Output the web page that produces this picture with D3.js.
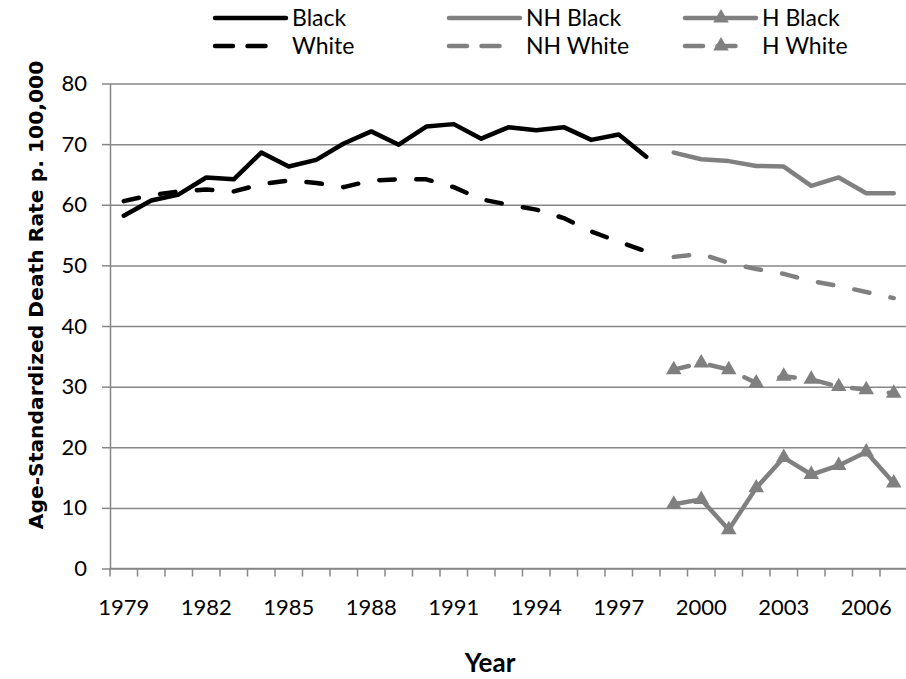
<!DOCTYPE html>
<html>
<head>
  <meta charset="utf-8">
  <script src="https://d3js.org/d3.v7.min.js"></script>
  <style>
    body { margin: 0; background: #fff; }
    text { font-family: Lato, "Open Sans", sans-serif; fill: #000; }
  </style>
</head>
<body>
  <svg id="viz"></svg>
  <script>
    // categories (years) and series values
    let years = [1979, 1980, 1981, 1982, 1983, 1984, 1985, 1986, 1987, 1988,
                 1989, 1990, 1991, 1992, 1993, 1994, 1995, 1996, 1997, 1998,
                 1999, 2000, 2001, 2002, 2003, 2004, 2005, 2006, 2007];
    let black   = [58.2, 60.7, 61.7, 64.5, 64.2, 68.6, 66.3, 67.4, 70.1, 72.1,
                   69.9, 72.9, 73.3, 70.9, 72.8, 72.3, 72.8, 70.7, 71.6, 67.9,
                   null, null, null, null, null, null, null, null, null];
    let white   = [60.6, 61.6, 62.2, 62.5, 62.2, 63.4, 64.0, 63.6, 62.9, 64.0,
                   64.2, 64.2, 62.9, 60.9, 60.0, 59.2, 57.8, 55.6, 53.9, 52.3,
                   null, null, null, null, null, null, null, null, null];
    let nhBlack = [null, null, null, null, null, null, null, null, null, null,
                   null, null, null, null, null, null, null, null, null, null,
                   68.6, 67.5, 67.2, 66.4, 66.3, 63.1, 64.5, 61.9, 61.9];
    let nhWhite = [null, null, null, null, null, null, null, null, null, null,
                   null, null, null, null, null, null, null, null, null, null,
                   51.4, 51.9, 50.4, 49.4, 48.6, 47.4, 46.6, 45.6, 44.6];
    let hBlack  = [null, null, null, null, null, null, null, null, null, null,
                   null, null, null, null, null, null, null, null, null, null,
                   10.6, 11.4, 6.4, 13.3, 18.3, 15.5, 17.0, 19.2, 14.1];
    let hWhite  = [null, null, null, null, null, null, null, null, null, null,
                   null, null, null, null, null, null, null, null, null, null,
                   32.8, 33.9, 32.8, 30.6, 31.7, 31.2, 30.0, 29.5, 28.9];
    let yTicks = [0, 10, 20, 30, 40, 50, 60, 70, 80];

    let width = 906, height = 679;
    let svg = d3.select("#viz").attr("width", width).attr("height", height);

    let plotLeft = 110, plotRight = 907.5, plotTop = 83.5, plotBottom = 568.5;
    let gray = "#808080", axisGray = "#878787";

    // scales
    let x = d3.scaleBand().domain(years).range([plotLeft, plotRight]).padding(0);
    let y = d3.scaleLinear().domain([0, 80]).range([plotBottom, plotTop]);

    // gridlines
    svg.append("g")
      .attr("transform", `translate(${plotLeft},0)`)
      .call(d3.axisLeft(y).tickValues(yTicks).tickSize(-(plotRight - plotLeft)).tickFormat(""))
      .call(g => g.select(".domain").remove())
      .selectAll("line").attr("stroke", axisGray).attr("stroke-width", 1.5);

    // y axis
    let yAxis = svg.append("g")
      .attr("transform", `translate(${plotLeft},0)`)
      .call(d3.axisLeft(y).tickValues(yTicks).tickSize(8).tickPadding(15).tickSizeOuter(0));
    yAxis.select(".domain").attr("stroke", axisGray).attr("stroke-width", 1.5);
    yAxis.selectAll("line").attr("stroke", axisGray).attr("stroke-width", 1.5);
    yAxis.selectAll("text").style("font-size", "22px").style("font-family", "Lato");

    // x axis: ticks between categories, labels every third year
    let xAxis = svg.append("g")
      .attr("transform", `translate(0,${plotBottom})`)
      .call(d3.axisBottom(x).tickSize(0).tickPadding(31)
        .tickFormat((d, i) => i % 3 == 0 ? d : ""));
    xAxis.select(".domain").remove();
    xAxis.selectAll("text").style("font-size", "22px").style("font-family", "Lato");
    xAxis.append("line")
      .attr("x1", plotLeft).attr("x2", plotRight).attr("y1", 0).attr("y2", 0)
      .attr("stroke", axisGray).attr("stroke-width", 1.5);
    xAxis.selectAll(".btick")
      .data(years)
      .enter()
      .append("line")
      .attr("class", "btick")
      .attr("x1", d => x(d)).attr("x2", d => x(d))
      .attr("y1", 0).attr("y2", 8)
      .attr("stroke", axisGray).attr("stroke-width", 1.5);

    // axis titles
    svg.append("text")
      .attr("transform", "translate(43,295) rotate(-90)")
      .attr("text-anchor", "middle")
      .style("font-family", "DejaVu Sans")
      .style("font-weight", "bold")
      .style("font-size", "20.3px")
      .text("Age-Standardized Death Rate p. 100,000");

    svg.append("text")
      .attr("x", 490).attr("y", 672)
      .attr("text-anchor", "middle")
      .style("font-weight", "bold")
      .style("font-size", "26px")
      .text("Year");

    // series lines
    let line = d3.line()
      .defined(d => d.v != null)
      .x(d => x(d.year) + x.bandwidth() / 2)
      .y(d => y(d.v));

    let series = [
      { name: "Black", values: black, color: "#000", dash: null, marker: false },
      { name: "White", values: white, color: "#000", dash: "15.5,21.5", marker: false },
      { name: "NH Black", values: nhBlack, color: gray, dash: null, marker: false },
      { name: "NH White", values: nhWhite, color: gray, dash: "15.5,21.5", marker: false },
      { name: "H Black", values: hBlack, color: gray, dash: null, marker: true },
      { name: "H White", values: hWhite, color: gray, dash: "15.5,21.5", marker: true }
    ];

    let tri = d3.symbol(d3.symbolTriangle).size(105);

    series.forEach(s => {
      let pts = years.map((yr, i) => ({ year: yr, v: s.values[i] }));
      svg.append("path")
        .datum(pts)
        .attr("d", line)
        .attr("fill", "none")
        .attr("stroke", s.color)
        .attr("stroke-width", 4.5)
        .attr("stroke-linejoin", "round")
        .attr("stroke-linecap", "round")
        .attr("stroke-dasharray", s.dash);
      if (s.marker) {
        svg.selectAll(null)
          .data(pts.filter(d => d.v != null))
          .enter()
          .append("path")
          .attr("d", tri)
          .attr("transform", d => `translate(${x(d.year) + x.bandwidth() / 2},${y(d.v)})`)
          .attr("fill", s.color);
      }
    });

    // legend
    let legendX = [215, 449, 685];
    let legendY = [18, 46];
    series.forEach((s, i) => {
      let col = Math.floor(i / 2), row = i % 2;
      let lx = legendX[col], ly = legendY[row];
      let g = svg.append("g").attr("transform", `translate(${lx},${ly})`);
      g.append("line")
        .attr("x1", 0).attr("x2", s.dash ? 62 : 71)
        .attr("y1", 0).attr("y2", 0)
        .attr("stroke", s.color)
        .attr("stroke-width", 4.5)
        .attr("stroke-linecap", "round")
        .attr("stroke-dasharray", s.dash ? "18,14.5" : null);
      if (s.marker) {
        g.append("path").attr("d", tri).attr("transform", "translate(36,0)").attr("fill", s.color);
      }
      g.append("text")
        .attr("x", 77).attr("y", 0).attr("dy", "0.35em")
        .style("font-size", "23px")
        .text(s.name);
    });
  </script>
</body>
</html>
